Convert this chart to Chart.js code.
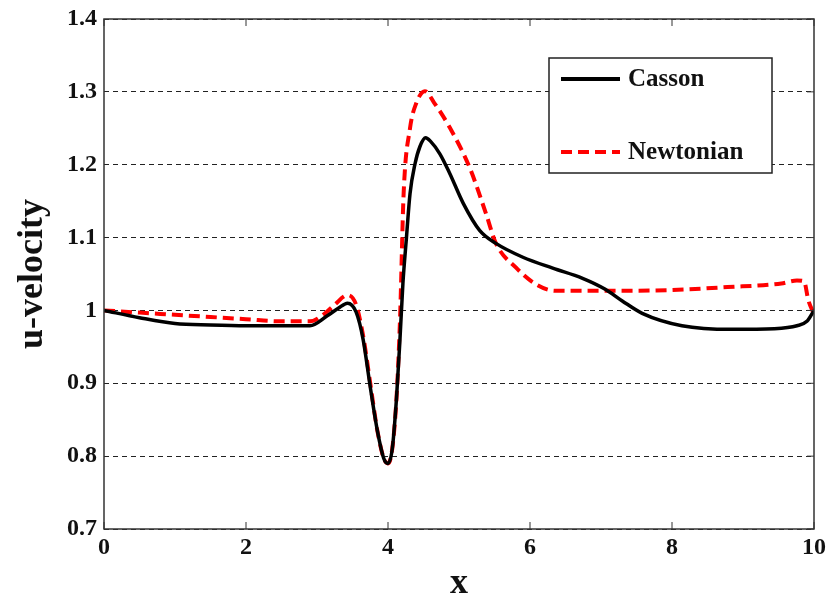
<!DOCTYPE html>
<html>
<head>
<meta charset="utf-8">
<script src="https://cdn.jsdelivr.net/npm/chart.js@4"></script>
<style>
  html, body { margin: 0; padding: 0; background: #fff; }
  #wrap { width: 830px; height: 605px; }
</style>
</head>
<body>
<div id="wrap"><canvas id="velChart" width="830" height="605"></canvas></div>
<script>
const cassonX = [0, 0.5, 1, 1.5, 2, 2.5, 2.9, 3.15, 3.3, 3.43, 3.55, 3.65, 3.75, 3.85, 3.94, 4.0, 4.06, 4.12, 4.17, 4.21, 4.26, 4.31, 4.38, 4.45, 4.53, 4.6, 4.73, 4.87, 5.06, 5.29, 5.52, 5.9, 6.32, 6.74, 7.06, 7.3, 7.58, 8.14, 8.84, 9.44, 9.76, 9.9, 10];
const cassonU = [1.0, 0.99, 0.982, 0.98, 0.979, 0.979, 0.979, 0.993, 1.003, 1.010, 0.998, 0.96, 0.895, 0.835, 0.797, 0.79, 0.81, 0.88, 0.963, 1.037, 1.10, 1.16, 1.201, 1.225, 1.237, 1.232, 1.215, 1.188, 1.147, 1.11, 1.092, 1.073, 1.058, 1.044, 1.029, 1.013, 0.996, 0.979, 0.974, 0.975, 0.979, 0.985, 1.0];

const newtX = [0, 0.5, 1, 1.5, 2, 2.5, 2.9, 3.1, 3.25, 3.43, 3.55, 3.65, 3.75, 3.85, 3.94, 4.0, 4.06, 4.12, 4.17, 4.22, 4.31, 4.4, 4.52, 4.65, 4.87, 5.15, 5.38, 5.52, 5.8, 6.1, 6.36, 7.2, 8.0, 8.78, 9.54, 9.76, 9.86, 9.92, 10];
const newtU = [1.0, 0.997, 0.994, 0.991, 0.988, 0.985, 0.985, 0.995, 1.008, 1.021, 1.008, 0.965, 0.9, 0.835, 0.797, 0.79, 0.81, 0.88, 0.99, 1.16, 1.25, 1.285, 1.301, 1.285, 1.251, 1.196, 1.133, 1.092, 1.059, 1.035, 1.027, 1.027, 1.028, 1.032, 1.037, 1.041, 1.04, 1.014, 0.995];

const xTicks = [0, 2, 4, 6, 8, 10];
const yTicks = [0.7, 0.8, 0.9, 1, 1.1, 1.2, 1.3, 1.4];

const toPts = (xs, ys) => xs.map((x, i) => ({ x: x, y: ys[i] }));
const serif = "'Liberation Serif', 'Times New Roman', serif";

// matlab style box, inner ticks and legend
const boxPlugin = {
  id: 'boxPlugin',
  afterDraw(chart) {
    const c = chart.ctx, a = chart.chartArea;
    const xs = chart.scales.x, ys = chart.scales.y;
    c.save();
    c.strokeStyle = '#333';
    c.lineWidth = 1.5;
    c.setLineDash([]);
    c.strokeRect(a.left, a.top, a.right - a.left, a.bottom - a.top);
    c.lineWidth = 1;
    xTicks.forEach(v => {
      const px = xs.getPixelForValue(v);
      c.beginPath(); c.moveTo(px, a.bottom); c.lineTo(px, a.bottom - 7); c.stroke();
      c.beginPath(); c.moveTo(px, a.top); c.lineTo(px, a.top + 7); c.stroke();
    });
    yTicks.forEach(v => {
      const py = ys.getPixelForValue(v);
      c.beginPath(); c.moveTo(a.right, py); c.lineTo(a.right - 7, py); c.stroke();
    });

    // legend box
    const bx = 549, by = 58, bw = 223, bh = 115;
    c.fillStyle = '#fff';
    c.fillRect(bx, by, bw, bh);
    c.strokeStyle = '#222';
    c.lineWidth = 1.5;
    c.strokeRect(bx, by, bw, bh);
    const rows = [by + 21, by + 94];
    chart.data.datasets.forEach((ds, i) => {
      const y = rows[i];
      c.strokeStyle = ds.borderColor;
      c.lineWidth = 4;
      c.setLineDash(ds.borderDash || []);
      c.beginPath(); c.moveTo(561, y); c.lineTo(620, y); c.stroke();
      c.setLineDash([]);
      c.fillStyle = '#111';
      c.font = 'bold 25px ' + serif;
      c.textBaseline = 'middle';
      c.textAlign = 'left';
      c.fillText(ds.label, 628, y + 1);
    });
    c.restore();
  }
};

const velCtx = document.getElementById('velChart').getContext('2d');

new Chart(velCtx, {
  type: 'line',
  data: {
    datasets: [
      {
        label: 'Casson',
        data: toPts(cassonX, cassonU),
        borderColor: '#000',
        borderWidth: 3.5,
        pointRadius: 0,
        cubicInterpolationMode: 'monotone',
        fill: false
      },
      {
        label: 'Newtonian',
        data: toPts(newtX, newtU),
        borderColor: '#f00',
        borderWidth: 4,
        borderDash: [11, 6],
        pointRadius: 0,
        cubicInterpolationMode: 'monotone',
        fill: false
      }
    ]
  },
  options: {
    responsive: false,
    animation: false,
    layout: { padding: { top: 19, right: 3, left: 0, bottom: 0 } },
    plugins: {
      legend: { display: false },
      tooltip: { enabled: false }
    },
    scales: {
      x: {
        type: 'linear',
        min: 0,
        max: 10,
        afterFit(scale) { scale.height = 76; },
        afterBuildTicks(scale) { scale.ticks = xTicks.map(v => ({ value: v })); },
        grid: { display: false, drawTicks: false },
        border: { display: false },
        ticks: {
          color: '#111',
          padding: 4,
          font: { family: serif, size: 24, weight: 'bold' }
        },
        title: {
          display: true,
          text: 'x',
          color: '#111',
          padding: { top: 0, bottom: 0 },
          font: { family: serif, size: 36, weight: 'bold' }
        }
      },
      y: {
        min: 0.7,
        max: 1.4,
        afterFit(scale) {
          scale.width = 104;
          scale.paddingTop = 0;
          scale.paddingBottom = 0;
        },
        afterBuildTicks(scale) { scale.ticks = yTicks.map(v => ({ value: v })); },
        grid: {
          color: '#222',
          lineWidth: 1,
          drawTicks: false
        },
        border: { display: false, dash: [5, 4] },
        ticks: {
          color: '#111',
          padding: 7,
          font: { family: serif, size: 24, weight: 'bold' },
          callback: v => String(Math.round(v * 10) / 10)
        },
        title: {
          display: true,
          text: 'u-velocity',
          color: '#111',
          padding: { top: 11, bottom: 0 },
          font: { family: serif, size: 36, weight: 'bold' }
        }
      }
    }
  },
  plugins: [boxPlugin]
});
</script>
</body>
</html>
